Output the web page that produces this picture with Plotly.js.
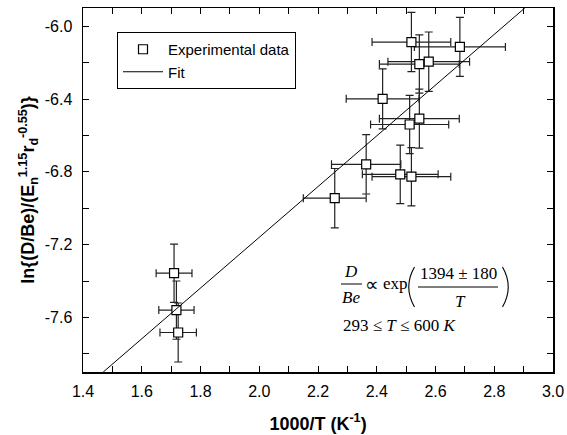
<!DOCTYPE html>
<html>
<head>
<meta charset="utf-8">
<script src="https://cdn.plot.ly/plotly-3.0.1.min.js"></script>
<style>html,body{margin:0;padding:0;background:#fff;}#chart{width:567px;height:435px;}</style>
</head>
<body>
<div id="chart"></div>
<script>
// ---- data ----
const invT = [2.518, 2.683, 2.545, 2.577, 2.420, 2.545, 2.512, 2.364, 2.480, 2.518, 2.257, 1.710, 1.718, 1.724];
const lnRatio = [-6.087, -6.114, -6.208, -6.195, -6.399, -6.508, -6.540, -6.759, -6.814, -6.827, -6.945, -7.357, -7.560, -7.683];
const invTErr = [0.134, 0.155, 0.136, 0.139, 0.124, 0.136, 0.133, 0.118, 0.129, 0.134, 0.107, 0.061, 0.060, 0.062];
const lnRatioErr = [0.163, 0.162, 0.160, 0.163, 0.165, 0.162, 0.160, 0.163, 0.161, 0.160, 0.163, 0.160, 0.160, 0.162];
const fitX = [1.469, 2.904];
const fitY = [-7.90, -5.90];
const xTickVals = [1.4, 1.6, 1.8, 2.0, 2.2, 2.4, 2.6, 2.8, 3.0];
const xTickText = ['1.4', '1.6', '1.8', '2.0', '2.2', '2.4', '2.6', '2.8', '3.0'];
const yTickVals = [-7.6, -7.2, -6.8, -6.4, -6.0];
const yTickText = ['-7.6', '-7.2', '-6.8', '-6.4', '-6.0'];

// ---- layout helpers (pixel -> paper) ----
const W = 567, H = 435, ML = 83, MR = 14, MT = 8, MB = 63;
const PW = W - ML - MR, PH = H - MT - MB;
const px = x => (x - ML) / PW;
const py = y => (H - MB - y) / PH;

const serif = 'Liberation Serif, Times New Roman, serif';
const sans = 'Liberation Sans, Arial, sans-serif';

function ann(text, x, y, size, xanchor) {
  return {text: text, x: px(x), y: py(y), xref: 'paper', yref: 'paper', showarrow: false,
    xanchor: xanchor || 'center', yanchor: 'middle', font: {family: serif, size: size || 17, color: '#000'}};
}
function hline(x0, x1, y) {
  return {type: 'line', xref: 'paper', yref: 'paper', x0: px(x0), x1: px(x1), y0: py(y), y1: py(y),
    line: {color: '#000', width: 1}};
}
// curved bracket drawn as a quadratic path: x = end x, xc = control x
function paren(x, xc, y0, y1) {
  const ym = (y0 + y1) / 2;
  return {type: 'path', xref: 'paper', yref: 'paper',
    path: 'M ' + px(x) + ',' + py(y0) + ' Q ' + px(xc) + ',' + py(ym) + ' ' + px(x) + ',' + py(y1),
    line: {color: '#000', width: 1.1}};
}

const traces = [
  {
    x: invT, y: lnRatio, type: 'scatter', mode: 'markers', name: 'Experimental data',
    marker: {symbol: 'square', size: 9, color: '#fff', line: {color: '#000', width: 1.2}},
    error_x: {type: 'data', array: invTErr, visible: true, color: '#222', thickness: 1.2, width: 4},
    error_y: {type: 'data', array: lnRatioErr, visible: true, color: '#222', thickness: 1.2, width: 4}
  },
  {
    x: fitX, y: fitY, type: 'scatter', mode: 'lines', name: 'Fit',
    line: {color: '#000', width: 1}
  }
];

const axisCommon = {
  showline: true, linecolor: '#000', linewidth: 1.5, mirror: 'allticks',
  ticks: 'inside', ticklen: 6, tickwidth: 1, tickcolor: '#000',
  showgrid: false, zeroline: false,
  tickfont: {family: sans, size: 16, color: '#000'}
};

const layout = {
  width: W, height: H,
  margin: {l: ML, r: MR, t: MT, b: MB, pad: 0},
  paper_bgcolor: '#fff', plot_bgcolor: '#fff',
  showlegend: true,
  legend: {x: px(117), y: py(32), xanchor: 'left', yanchor: 'top',
    bordercolor: '#000', borderwidth: 1, bgcolor: '#fff', itemwidth: 40,
    font: {family: sans, size: 15, color: '#000'}, tracegroupgap: 0},
  xaxis: Object.assign({}, axisCommon, {
    range: [1.4, 3.0], tickmode: 'array', tickvals: xTickVals, ticktext: xTickText,
    minor: {dtick: 0.1, tick0: 1.4, ticks: 'inside', ticklen: 6, tickcolor: '#000'},
    ticklabelstandoff: 4,
    title: {text: '<b>1000/T (K<sup>-1</sup>)</b>', font: {family: sans, size: 18, color: '#000'}, standoff: 18}
  }),
  yaxis: Object.assign({}, axisCommon, {
    range: [-7.9, -5.9], tickmode: 'array', tickvals: yTickVals, ticktext: yTickText,
    minor: {dtick: 0.2, tick0: -6.0, ticks: 'inside', ticklen: 6, tickcolor: '#000'},
    ticklabelstandoff: 6,
    title: {text: '<b>ln{(D/Be)/(E<sub>n</sub><sup>1.15</sup>r<sub>d</sub><sup>-0.55</sup>)}</b>',
      font: {family: sans, size: 18, color: '#000'}, standoff: 5}
  }),
  annotations: [
    ann('<i>D</i>', 351, 271),
    ann('<i>Be</i>', 351, 297),
    ann('∝', 372, 284, 19),
    ann('exp', 395, 283),
    ann('1394 ± 180', 458, 273),
    ann('<i>T</i>', 460, 301),
    ann('293 ≤ <i>T</i> ≤ 600 <i>K</i>', 341, 325, 17, 'left')
  ],
  shapes: [hline(341, 362, 284), hline(418, 498, 287),
    paren(414.5, 403, 267, 307), paren(502.5, 514, 267, 307)]
};

Plotly.newPlot('chart', traces, layout, {displayModeBar: false, staticPlot: true});
</script>
</body>
</html>
